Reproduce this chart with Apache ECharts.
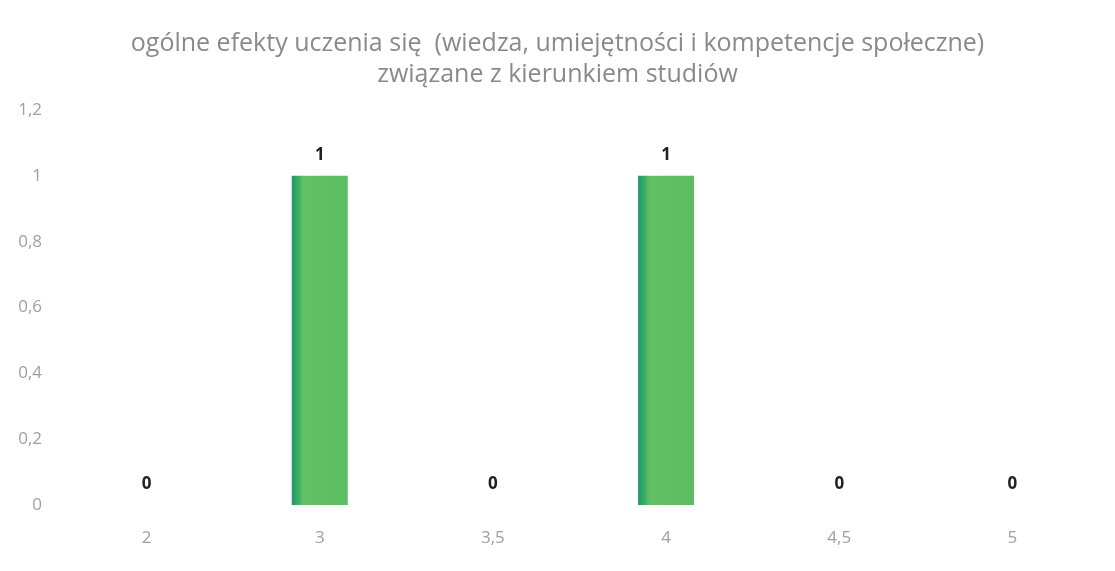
<!DOCTYPE html>
<html><head><meta charset="utf-8">
<script src="https://cdn.jsdelivr.net/npm/echarts@6/dist/echarts.min.js"></script>
<style>html,body{margin:0;padding:0;background:#fff}#c{width:1115px;height:571px}</style>
</head><body><div id="c"></div>
<script>
const titleLines = ['ogólne efekty uczenia się  (wiedza, umiejętności i kompetencje społeczne)', 'związane z kierunkiem studiów'];
const categories = ['2', '3', '3,5', '4', '4,5', '5'];
const values = [0, 1, 0, 1, 0, 0];
const yTicks = [0, 0.2, 0.4, 0.6, 0.8, 1, 1.2];

const chart = echarts.init(document.getElementById('c'));
chart.setOption({
  backgroundColor: '#ffffff',
  animation: false,
  title: {
    text: titleLines.join('\n'),
    left: 'center', top: 23,
    textStyle: { color: '#8a8a8a', fontSize: 25, fontWeight: 'normal', fontFamily: 'Open Sans', lineHeight: 31 }
  },
  grid: { left: 60, right: 16, top: 110, bottom: 66 },
  xAxis: {
    type: 'category', data: categories,
    axisLine: { show: false }, axisTick: { show: false },
    axisLabel: { color: '#a0a0a0', fontSize: 17, fontFamily: 'Open Sans', margin: 25 }
  },
  yAxis: {
    type: 'value', min: 0, max: 1.2, interval: 0.2,
    splitLine: { show: false }, axisLine: { show: false }, axisTick: { show: false },
    axisLabel: { color: '#a0a0a0', fontSize: 17, fontFamily: 'Open Sans', margin: 18,
      formatter: v => String(+v.toFixed(1)).replace('.', ',') }
  },
  series: [{
    type: 'bar', data: values, barWidth: 56,
    itemStyle: { color: new echarts.graphic.LinearGradient(0, 0, 1, 0, [
      { offset: 0, color: '#1f9a6a' }, { offset: 0.12, color: '#3aae63' }, { offset: 0.2, color: '#63c066' }, { offset: 1, color: '#5dbd62' }
    ]) },
    label: { show: true, position: 'top', distance: 12, color: '#222', fontWeight: 'bold', fontSize: 17, fontFamily: 'Open Sans' }
  }]
});
</script></body></html>
